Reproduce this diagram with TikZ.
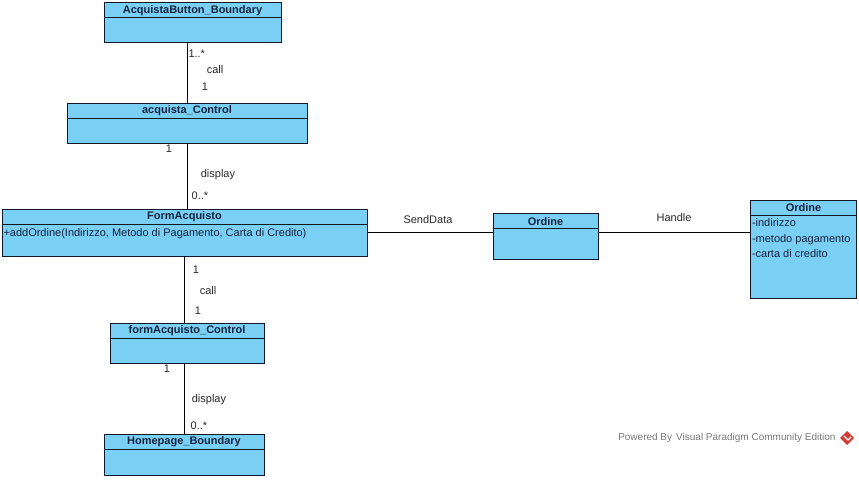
\documentclass[tikz,border=0pt]{standalone}
\usepackage{fontspec}
\setmainfont{Liberation Sans}
\usetikzlibrary{positioning}
\usetikzlibrary{calc}
\definecolor{classfill}{RGB}{122,207,245}
\definecolor{classline}{RGB}{16,24,40}
\definecolor{classtext}{RGB}{22,34,62}
\definecolor{labeltext}{RGB}{40,40,40}
\definecolor{vpgray}{RGB}{120,120,120}
\definecolor{vpred}{RGB}{214,58,52}
\tikzstyle{every node}=[font=\fontsize{11}{13}\selectfont]
\tikzstyle{every path}=[line width=1pt]
\tikzstyle{classbox}=[draw=classline, fill=classfill, inner sep=0pt]
\tikzstyle{classtitle}=[anchor=north, inner sep=0pt, minimum height=15.5pt,
  text=classtext, font=\fontsize{11}{13}\selectfont\bfseries]
\tikzstyle{classrule}=[draw=classline]
\tikzstyle{member}=[inner sep=0pt, text=classtext, align=left]
\tikzstyle{assoc}=[draw=black]
\tikzstyle{lbl}=[inner sep=0pt, text=labeltext]

% one class: name, x, y, width, height, title
\newcommand{\umlclass}[6]{%
  \node[classbox, minimum width=#4pt, minimum height=#5pt] (#1) at (#2,#3) {};
  \node[classtitle] (#1-title) at (#1.north) {#6};
  \draw[classrule] ($(#1.north west)+(0,15.5)$) -- ($(#1.north east)+(0,15.5)$);
}

\begin{document}
\begin{tikzpicture}[x=1pt,y=-1pt]
  \useasboundingbox (0,0) rectangle (859,495);

  % classes
  \umlclass{button}{192.5}{22.5}{177}{40}{AcquistaButton\_Boundary}
  \umlclass{acqctrl}{187}{123}{240}{40}{acquista\_Control}
  \umlclass{form}{184.5}{232.5}{365}{47}{FormAcquisto}
  \umlclass{ordine}{545.5}{236.5}{105}{46}{Ordine}
  \umlclass{ordent}{803.5}{249}{106}{98}{Ordine}
  \umlclass{formctrl}{187}{343}{154}{40}{formAcquisto\_Control}
  \umlclass{home}{184}{454.5}{160}{41}{Homepage\_Boundary}

  % members
  \node[member, anchor=west] (form-op) at ($(form.west)+(1.5,1)$)
    {+addOrdine(Indirizzo, Metodo di Pagamento, Carta di Credito)};
  \node[member, anchor=north west, font=\fontsize{11}{15.5}\selectfont]
    (ordent-attr) at ($(ordent.north west)+(1.5,19)$)
    {-indirizzo\\-metodo pagamento\\-carta di credito};

  % associations
  \draw[assoc] (acqctrl.north) -- (acqctrl.north |- button.south);
  \draw[assoc] (acqctrl.south) -- (acqctrl.south |- form.north);
  \draw[assoc] (form.east) -- (form.east -| ordine.west);
  \draw[assoc] (ordine.east |- form.east) -- (ordine.east |- form.east -| ordent.west);
  \draw[assoc] (form.south) -- (form.south |- formctrl.north);
  \draw[assoc] (home.north) -- (home.north |- formctrl.south);

  % labels
  \node[lbl, anchor=west] (m1) at (188,54) {1..*};
  \node[lbl] (l1) at (215,70) {call};
  \node[lbl] (m2) at (205,87) {1};
  \node[lbl] (m3) at (169,149) {1};
  \node[lbl] (l2) at (218,175) {display};
  \node[lbl] (m4) at (200,196) {0..*};
  \node[lbl] (l3) at (428,220) {SendData};
  \node[lbl] (l4) at (674,218) {Handle};
  \node[lbl] (m5) at (196,270) {1};
  \node[lbl] (l5) at (208,291) {call};
  \node[lbl] (m6) at (198,311) {1};
  \node[lbl] (m7) at (167,369) {1};
  \node[lbl] (l6) at (209,400) {display};
  \node[lbl] (m8) at (199,426) {0..*};

  % watermark
  \node[lbl, text=vpgray, anchor=east, font=\fontsize{10}{12}\selectfont] (vp) at (836,438)
    {Powered By\hspace{4pt}Visual Paradigm Community Edition};
  \fill[vpred] (847,431) -- (854,438) -- (847,445) -- (840,438) -- cycle;
  \draw[white, line width=1.2pt] (844,436) -- (848,440) -- (851,437);
\end{tikzpicture}
\end{document}
